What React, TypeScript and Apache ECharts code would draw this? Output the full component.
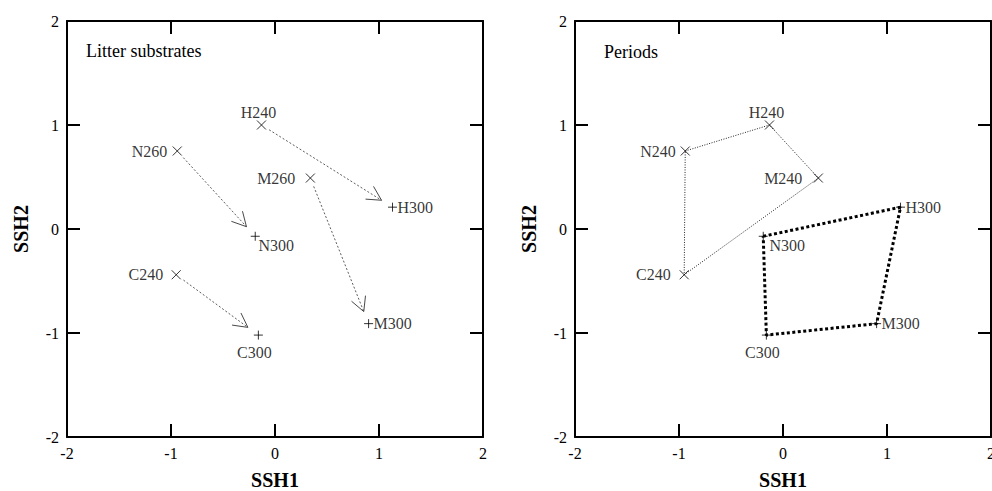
import React, { useEffect, useRef } from "react";
import * as echarts from "echarts";

// ---- data ----
const startNamesLeft = ["H240", "N260", "M260", "C240"];
const startNamesRight = ["H240", "N240", "M240", "C240"];
const endNames = ["H300", "N300", "M300", "C300"];
const startX = [-0.13, -0.94, 0.34, -0.95];
const startY = [1.0, 0.75, 0.49, -0.44];
const endX = [1.13, -0.19, 0.9, -0.16];
const endY = [0.21, -0.07, -0.91, -1.02];
// polygon order (indices into the arrays above): N -> H -> M -> C -> N
const polygonOrder = [1, 0, 2, 3, 1];
const panelTitles = ["Litter substrates", "Periods"];
const xAxisName = "SSH1";
const yAxisName = "SSH2";

const FONT = "'Liberation Serif', 'Times New Roman', serif";

// label placement styles (kept separate from data)
const startLabelLeft = [
  { position: "top", distance: 0, offset: [-3, 0] },
  { position: "left", distance: 5 },
  { position: "left", distance: 10 },
  { position: "left", distance: 8 },
];
const startLabelRight = [
  { position: "top", distance: 0, offset: [-3, 0] },
  { position: "left", distance: 4.5 },
  { position: "left", distance: 11 },
  { position: "left", distance: 8.5 },
];
const endLabelLeft = [
  { position: "right", distance: 0 },
  { position: "bottom", distance: -4, offset: [21, 0] },
  { position: "right", distance: 0 },
  { position: "bottom", distance: 4, offset: [-4, 0] },
];
const endLabelRight = [
  { position: "right", distance: 0 },
  { position: "bottom", distance: -4, offset: [24, 0] },
  { position: "right", distance: 0 },
  { position: "bottom", distance: 4, offset: [-4, 0] },
];

const CROSS = "path://M0,0L10,10M10,0L0,10";
const PLUS = "path://M5,0L5,10M0,5L10,5";

function axisBase(gridIndex: number, position: string, withLabels: boolean, name?: string, nameGap?: number) {
  return {
    type: "value",
    gridIndex,
    position,
    min: -2,
    max: 2,
    interval: 1,
    name: name || "",
    nameLocation: "middle",
    nameGap: nameGap || 0,
    nameTextStyle: { fontFamily: FONT, fontSize: 20, fontWeight: "bold", color: "#000" },
    axisLine: { show: true, onZero: false, lineStyle: { color: "#000", width: 2 } },
    axisTick: { show: true, inside: true, length: 13, lineStyle: { color: "#000", width: 2 } },
    splitLine: { show: false },
    axisLabel: {
      show: withLabels,
      color: "#000",
      fontFamily: FONT,
      fontSize: 16,
      margin: 8,
      showMinLabel: true,
      showMaxLabel: true,
      hideOverlap: false,
    },
  };
}

function pointSeries(
  names: string[],
  xs: number[],
  ys: number[],
  labels: any[],
  symbol: string,
  idx: number
) {
  return {
    type: "scatter",
    xAxisIndex: idx,
    yAxisIndex: idx,
    symbol,
    symbolSize: 9,
    z: 5,
    itemStyle: { color: "transparent", borderColor: "#000", borderWidth: 1 },
    label: {
      show: true,
      formatter: "{b}",
      color: "#000",
      fontFamily: FONT,
      fontSize: 16,
    },
    emphasis: { disabled: true },
    data: names.map((n, i) => ({
      name: n,
      value: [xs[i], ys[i]],
      label: labels[i],
    })),
  };
}

function arrowRenderItem(params: any, api: any) {
  const a = api.coord([api.value(0), api.value(1)]);
  const b = api.coord([api.value(2), api.value(3)]);
  const dx = b[0] - a[0];
  const dy = b[1] - a[1];
  const L = Math.hypot(dx, dy);
  const ux = dx / L;
  const uy = dy / L;
  const s = [a[0] + ux * 9, a[1] + uy * 9];
  const t = [b[0] - ux * 13, b[1] - uy * 13];
  const head = 16;
  const ang = (28 * Math.PI) / 180;
  const bx = -ux;
  const by = -uy;
  const rot = (th: number) => [
    t[0] + (bx * Math.cos(th) - by * Math.sin(th)) * head,
    t[1] + (bx * Math.sin(th) + by * Math.cos(th)) * head,
  ];
  return {
    type: "group",
    children: [
      {
        type: "line",
        shape: { x1: s[0], y1: s[1], x2: t[0], y2: t[1] },
        style: { stroke: "#333", lineWidth: 0.8, lineDash: [2, 2], fill: null },
      },
      {
        type: "polyline",
        shape: { points: [rot(ang), t, rot(-ang)] },
        style: { stroke: "#333", lineWidth: 0.9, fill: null },
      },
    ],
  };
}

export default function App() {
  const ref = useRef<HTMLDivElement>(null);
  useEffect(() => {
    if (!ref.current) return;
    const chart = echarts.init(ref.current, null, { renderer: "svg" });
    const option: any = {
      animation: false,
      backgroundColor: "#fff",
      title: [
        {
          text: panelTitles[0],
          left: 86,
          top: 42,
          padding: 0,
          textStyle: { fontFamily: FONT, fontSize: 18, fontWeight: "normal", color: "#000" },
        },
        {
          text: panelTitles[1],
          left: 604,
          top: 43,
          padding: 0,
          textStyle: { fontFamily: FONT, fontSize: 18, fontWeight: "normal", color: "#000" },
        },
      ],
      grid: [
        { left: 67, top: 21, width: 416, height: 416, containLabel: false, outerBoundsMode: "none" },
        { left: 575, top: 21, width: 416, height: 416, containLabel: false, outerBoundsMode: "none" },
      ],
      xAxis: [
        axisBase(0, "bottom", true, xAxisName, 33),
        axisBase(1, "bottom", true, xAxisName, 33),
        axisBase(0, "top", false),
        axisBase(1, "top", false),
      ],
      yAxis: [
        axisBase(0, "left", true, yAxisName, 36),
        axisBase(1, "left", true, yAxisName, 36),
        axisBase(0, "right", false),
        axisBase(1, "right", false),
      ],
      series: [
        {
          type: "custom",
          xAxisIndex: 0,
          yAxisIndex: 0,
          renderItem: arrowRenderItem,
          encode: { x: [0, 2], y: [1, 3] },
          data: startX.map((x, i) => [x, startY[i], endX[i], endY[i]]),
          z: 3,
          silent: true,
        },
        {
          type: "line",
          xAxisIndex: 1,
          yAxisIndex: 1,
          symbol: "none",
          silent: true,
          lineStyle: { color: "#222", width: 1, type: [1, 1.5] },
          data: polygonOrder.map((i) => [startX[i], startY[i]]),
          z: 3,
        },
        {
          type: "line",
          xAxisIndex: 1,
          yAxisIndex: 1,
          symbol: "none",
          silent: true,
          lineStyle: { color: "#000", width: 3, type: [3, 2.5] },
          data: polygonOrder.map((i) => [endX[i], endY[i]]),
          z: 3,
        },
        pointSeries(startNamesLeft, startX, startY, startLabelLeft, CROSS, 0),
        pointSeries(endNames, endX, endY, endLabelLeft, PLUS, 0),
        pointSeries(startNamesRight, startX, startY, startLabelRight, CROSS, 1),
        pointSeries(endNames, endX, endY, endLabelRight, PLUS, 1),
      ],
    };
    chart.setOption(option);
    return () => chart.dispose();
  }, []);
  return (
    <div
      ref={ref}
      style={{ position: "absolute", left: 0, top: 0, width: 992, height: 491 }}
    />
  );
}
